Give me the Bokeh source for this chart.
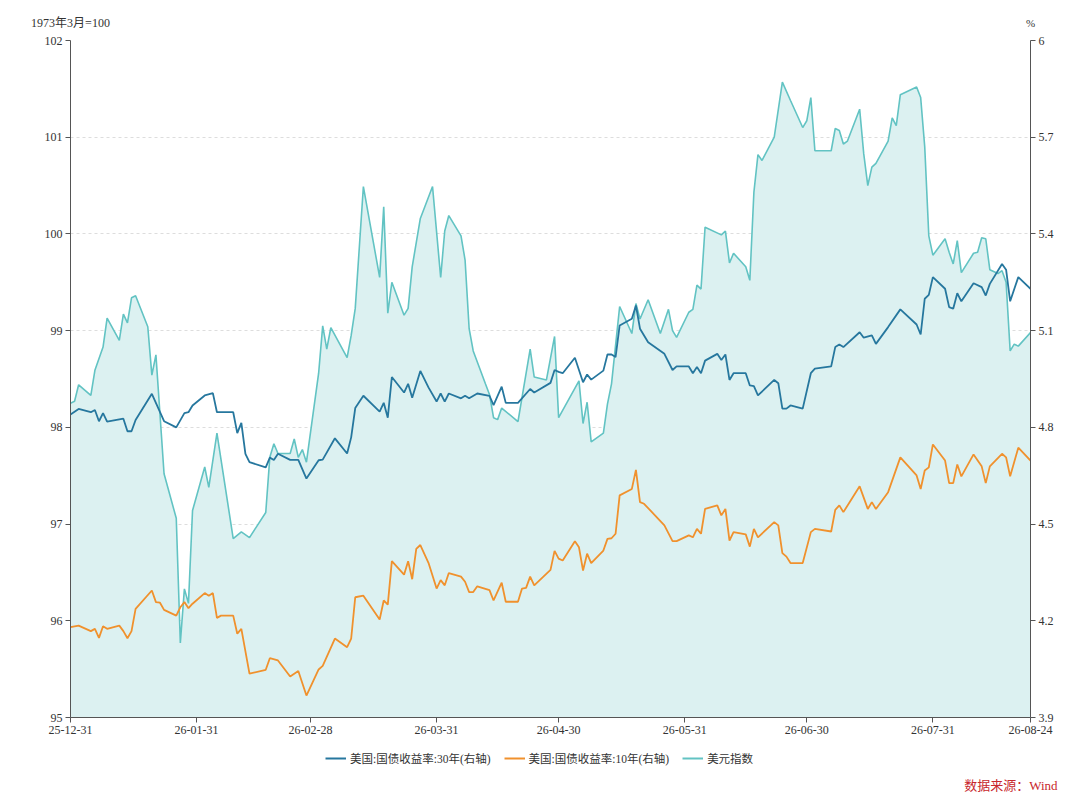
import pandas as pd
from bokeh.plotting import figure
from bokeh.models import (Range1d, LinearAxis, FixedTicker, Legend, LegendItem,
                          CustomJSTickFormatter, DatetimeTickFormatter)
from bokeh.core.properties import value
from bokeh.embed import file_html
from bokeh.resources import INLINE

START = "2025-12-31"
END = "2026-08-24"

# x tick labels (dates)
x_ticks = ["2025-12-31", "2026-01-31", "2026-02-28", "2026-03-31", "2026-04-30",
           "2026-05-31", "2026-06-30", "2026-07-31", "2026-08-24"]
left_ticks = [95, 96, 97, 98, 99, 100, 101, 102]
right_ticks = [3.9, 4.2, 4.5, 4.8, 5.1, 5.4, 5.7, 6.0]

# 美元指数 (left axis): days since 2025-12-31, value
usdx_day = [0, 1, 2, 5, 6, 8, 9, 12, 13, 14, 15, 16, 19, 20, 21, 23, 26, 27, 28, 29,
            30, 33, 34, 36, 40, 42, 44, 48, 49, 50, 51, 54, 55, 56, 57, 58, 61, 62, 63, 64,
            68, 69, 70, 72, 76, 77, 78, 79, 82, 83, 84, 86, 89, 91, 92, 93, 96, 97, 98, 99,
            102, 103, 104, 105, 106, 110, 113, 114, 117, 119, 120, 125, 126, 127, 128, 131,
            132, 133, 135, 138, 139, 140, 142, 145, 147, 148, 149, 152, 153, 154, 155, 156,
            160, 161, 162, 163, 166, 167, 168, 169, 170, 173, 175, 177, 180, 181, 182, 183,
            187, 188, 189, 190, 191, 194, 195, 196, 197, 198, 201, 202, 203, 204, 208, 209,
            210, 211, 212, 215, 216, 217, 218, 219, 222, 223, 224, 225, 226, 228, 229, 230,
            231, 232, 233, 236]
usdx_val = [98.25, 98.27, 98.44, 98.33, 98.59, 98.83, 99.13, 98.90, 99.17, 99.08, 99.34, 99.36,
            99.04, 98.54, 98.75, 97.52, 97.06, 95.77, 96.33, 96.18, 97.14, 97.59, 97.38, 97.94,
            96.85, 96.92, 96.86, 97.12, 97.69, 97.83, 97.73, 97.73, 97.88, 97.69, 97.77, 97.64,
            98.56, 99.05, 98.81, 99.03, 98.72, 98.95, 99.23, 100.49, 99.55, 100.28, 99.18, 99.50,
            99.16, 99.23, 99.66, 100.16, 100.49, 99.55, 100.03, 100.19, 99.98, 99.73, 99.02, 98.79,
            98.45, 98.34, 98.10, 98.08, 98.20, 98.06, 98.81, 98.52, 98.49, 98.94, 98.10, 98.48,
            98.04, 98.26, 97.85, 97.94, 98.24, 98.45, 99.25, 98.97, 99.28, 99.12, 99.32, 98.97,
            99.22, 99.00, 98.93, 99.19, 99.22, 99.47, 99.43, 100.07, 99.99, 100.03, 99.70, 99.80,
            99.66, 99.52, 100.43, 100.82, 100.76, 101.00, 101.57, 101.38, 101.10, 101.17, 101.41,
            100.86, 100.86, 101.09, 101.07, 100.93, 100.96, 101.29, 100.83, 100.50, 100.69, 100.73,
            100.96, 101.20, 101.12, 101.44, 101.52, 101.41, 100.90, 99.98, 99.78, 99.95, 99.81,
            99.69, 99.93, 99.60, 99.80, 99.81, 99.96, 99.95, 99.63, 99.59, 99.62, 99.50, 98.79,
            98.86, 98.84, 98.98]

# 美国:国债收益率:30年 (right axis, %)
y30_day = [0, 2, 5, 6, 7, 8, 9, 13, 14, 15, 16, 20, 23, 26, 28, 29, 30, 33, 35, 36, 40, 41,
           42, 43, 44, 48, 49, 50, 51, 54, 56, 58, 61, 62, 65, 68, 69, 70, 72, 76, 77, 78, 79,
           82, 83, 84, 86, 88, 90, 91, 92, 93, 96, 97, 98, 100, 103, 104, 106, 107, 110, 113,
           114, 118, 119, 120, 121, 124, 126, 127, 128, 131, 132, 133, 134, 135, 138, 139, 140,
           142, 146, 148, 149, 152, 153, 154, 155, 156, 159, 160, 161, 162, 163, 166, 167, 168,
           169, 173, 174, 175, 176, 177, 180, 182, 183, 187, 188, 189, 190, 194, 195, 197, 198,
           201, 204, 208, 209, 210, 211, 212, 215, 216, 217, 218, 219, 222, 224, 225, 226, 229,
           230, 231, 233, 236]
y30_val = [4.840, 4.857, 4.847, 4.854, 4.819, 4.844, 4.818, 4.827, 4.788, 4.788, 4.823, 4.904,
           4.819, 4.800, 4.844, 4.847, 4.868, 4.899, 4.906, 4.847, 4.847, 4.782, 4.814, 4.718,
           4.692, 4.676, 4.706, 4.699, 4.718, 4.699, 4.699, 4.641, 4.698, 4.700, 4.766, 4.719,
           4.769, 4.860, 4.898, 4.849, 4.876, 4.830, 4.956, 4.908, 4.935, 4.892, 4.975, 4.924,
           4.880, 4.905, 4.880, 4.905, 4.890, 4.898, 4.890, 4.905, 4.898, 4.869, 4.926, 4.876,
           4.876, 4.919, 4.908, 4.938, 4.978, 4.972, 4.968, 5.016, 4.940, 4.964, 4.948, 4.976,
           5.026, 5.026, 5.018, 5.116, 5.137, 5.178, 5.106, 5.064, 5.028, 4.978, 4.989, 4.989,
           4.968, 4.987, 4.968, 5.007, 5.028, 5.009, 5.026, 4.947, 4.968, 4.968, 4.930, 4.928,
           4.899, 4.947, 4.937, 4.858, 4.858, 4.868, 4.858, 4.968, 4.982, 4.989, 5.049, 5.057,
           5.049, 5.095, 5.078, 5.085, 5.059, 5.111, 5.166, 5.119, 5.088, 5.199, 5.211, 5.266,
           5.230, 5.173, 5.168, 5.216, 5.191, 5.247, 5.235, 5.209, 5.245, 5.307, 5.289, 5.191,
           5.266, 5.230]

# 美国:国债收益率:10年 (right axis, %)
y10_day = [0, 2, 5, 6, 7, 8, 9, 12, 13, 14, 15, 16, 20, 21, 22, 23, 26, 27, 28, 29, 30, 33,
           34, 35, 36, 37, 40, 41, 42, 44, 48, 49, 51, 54, 56, 58, 61, 62, 65, 68, 69, 70, 72,
           76, 77, 78, 79, 82, 83, 84, 85, 86, 88, 90, 91, 92, 93, 96, 97, 98, 99, 100, 103,
           104, 106, 107, 110, 111, 112, 113, 114, 118, 119, 120, 121, 124, 125, 126, 127, 128,
           131, 132, 133, 134, 135, 138, 139, 140, 141, 146, 148, 149, 152, 153, 154, 155, 156,
           159, 160, 161, 162, 163, 166, 167, 168, 169, 173, 174, 175, 176, 177, 180, 182, 183,
           187, 188, 189, 190, 194, 196, 197, 198, 201, 204, 208, 209, 210, 211, 212, 215, 216,
           217, 218, 219, 222, 224, 225, 226, 229, 230, 231, 233, 236]
y10_val = [4.180, 4.185, 4.168, 4.175, 4.147, 4.183, 4.175, 4.185, 4.168, 4.146, 4.168, 4.237,
           4.294, 4.258, 4.256, 4.234, 4.216, 4.242, 4.258, 4.239, 4.253, 4.286, 4.278, 4.286,
           4.209, 4.216, 4.216, 4.160, 4.175, 4.036, 4.048, 4.084, 4.077, 4.027, 4.044, 3.968,
           4.049, 4.060, 4.145, 4.118, 4.145, 4.273, 4.278, 4.204, 4.263, 4.250, 4.385, 4.343,
           4.385, 4.329, 4.423, 4.435, 4.380, 4.300, 4.326, 4.310, 4.348, 4.337, 4.321, 4.289,
           4.289, 4.307, 4.295, 4.263, 4.318, 4.259, 4.259, 4.300, 4.302, 4.337, 4.310, 4.358,
           4.417, 4.393, 4.387, 4.447, 4.428, 4.356, 4.408, 4.379, 4.418, 4.454, 4.456, 4.470,
           4.589, 4.609, 4.668, 4.568, 4.563, 4.496, 4.447, 4.447, 4.465, 4.459, 4.485, 4.470,
           4.547, 4.558, 4.527, 4.547, 4.449, 4.475, 4.468, 4.430, 4.485, 4.459, 4.506, 4.496,
           4.410, 4.399, 4.379, 4.379, 4.475, 4.485, 4.477, 4.544, 4.558, 4.537, 4.617, 4.547,
           4.568, 4.547, 4.599, 4.707, 4.651, 4.609, 4.666, 4.676, 4.747, 4.697, 4.627, 4.627,
           4.685, 4.648, 4.716, 4.679, 4.627, 4.679, 4.718, 4.707, 4.648, 4.737, 4.697]

labels = ["美国:国债收益率:30年(右轴)", "美国:国债收益率:10年(右轴)", "美元指数"]
left_unit = "1973年3月=100"
right_unit = "%"
source_text = "数据来源：Wind"

start = pd.Timestamp(START)
def to_dates(days):
    return start + pd.to_timedelta(days, unit="D")

usdx_x = to_dates(usdx_day)
y30_x = to_dates(y30_day)
y10_x = to_dates(y10_day)

FONT = "Liberation Serif, Noto Sans CJK SC"
TXT = "#333333"
AX = "#555555"
C_USD, C_30, C_10, C_FILL = "#62c3c3", "#26779e", "#f0912d", "#dcf1f1"
W = 1064
NAN = float("nan")


def text_strip(height):
    f = figure(width=W, height=height, output_backend="svg", toolbar_location=None,
               x_range=Range1d(0, W), y_range=Range1d(0, height),
               x_axis_type=None, y_axis_type=None, min_border=0,
               min_border_left=0, min_border_right=0, min_border_top=0, min_border_bottom=0)
    f.grid.visible = False
    f.outline_line_color = None
    f.background_fill_color = "white"
    f.border_fill_color = "white"
    return f

# ---- top strip: unit labels
top = text_strip(32)
top.text(x=[70], y=[10], text=[left_unit], text_font=value(FONT), text_font_size="12px",
         text_color=TXT, text_align="center", text_baseline="middle")
top.text(x=[1030], y=[10], text=[right_unit], text_font=value(FONT), text_font_size="11px",
         text_color=TXT, text_align="center", text_baseline="middle")

# ---- main chart
p = figure(width=W, height=713, x_axis_type="datetime", output_backend="svg",
           toolbar_location=None, x_range=Range1d(pd.Timestamp(START), pd.Timestamp(END)),
           y_range=Range1d(left_ticks[0], left_ticks[-1]),
           min_border_left=70, min_border_right=34, min_border_top=8, min_border_bottom=28)
p.extra_y_ranges = {"pct": Range1d(right_ticks[0], right_ticks[-1])}
p.outline_line_color = None
p.background_fill_color = "white"
p.border_fill_color = "white"

p.varea(x=usdx_x, y1=left_ticks[0], y2=usdx_val, fill_color=C_FILL, fill_alpha=1.0)
p.line(usdx_x, usdx_val, line_color=C_USD, line_width=1.6)
p.line(y30_x, y30_val, line_color=C_30, line_width=1.8, y_range_name="pct")
p.line(y10_x, y10_val, line_color=C_10, line_width=1.8, y_range_name="pct")


def style_axis(ax):
    ax.axis_line_color = AX
    ax.major_tick_line_color = AX
    ax.minor_tick_line_color = None
    ax.major_tick_out = 5
    ax.major_tick_in = 0
    ax.major_label_text_font = FONT
    ax.major_label_text_font_size = "12px"
    ax.major_label_text_color = TXT
    ax.major_label_standoff = 3

xa = p.xaxis[0]
xa.ticker = FixedTicker(ticks=[pd.Timestamp(t).value // 10**6 for t in x_ticks])
xa.formatter = DatetimeTickFormatter(days="%y-%m-%d", months="%y-%m-%d", years="%y-%m-%d")
style_axis(xa)

ya = p.yaxis[0]
ya.ticker = FixedTicker(ticks=left_ticks)
style_axis(ya)

ra = LinearAxis(y_range_name="pct", ticker=FixedTicker(ticks=right_ticks),
                formatter=CustomJSTickFormatter(code="return String(Number(tick.toFixed(1)));"))
style_axis(ra)
p.add_layout(ra, "right")

p.xgrid.visible = False
p.ygrid.ticker = FixedTicker(ticks=left_ticks)
p.ygrid.grid_line_color = "#dddddd"
p.ygrid.grid_line_dash = "3 3"
p.ygrid.grid_line_width = 1

# ---- bottom strip: legend + source (legend keys use placeholder renderers)
bottom = text_strip(59)
k30 = bottom.line(x=[NAN], y=[NAN], line_color=C_30, line_width=2)
k10 = bottom.line(x=[NAN], y=[NAN], line_color=C_10, line_width=2)
kus = bottom.line(x=[NAN], y=[NAN], line_color=C_USD, line_width=2)
legend = Legend(items=[LegendItem(label=labels[0], renderers=[k30]),
                       LegendItem(label=labels[1], renderers=[k10]),
                       LegendItem(label=labels[2], renderers=[kus])],
                orientation="horizontal", location=(325, 38),
                label_text_font=FONT, label_text_font_size="11.5px", label_text_color=TXT,
                glyph_width=21, glyph_height=14, label_standoff=4, spacing=13,
                padding=0, margin=0, border_line_color=None, background_fill_alpha=0)
bottom.add_layout(legend, "center")
bottom.text(x=[1057], y=[19], text=[source_text], text_font=value(FONT),
            text_font_size="13px", text_color="#c8282d", text_align="right",
            text_baseline="middle")

open("out.html", "w").write(file_html([top, p, bottom], INLINE))
